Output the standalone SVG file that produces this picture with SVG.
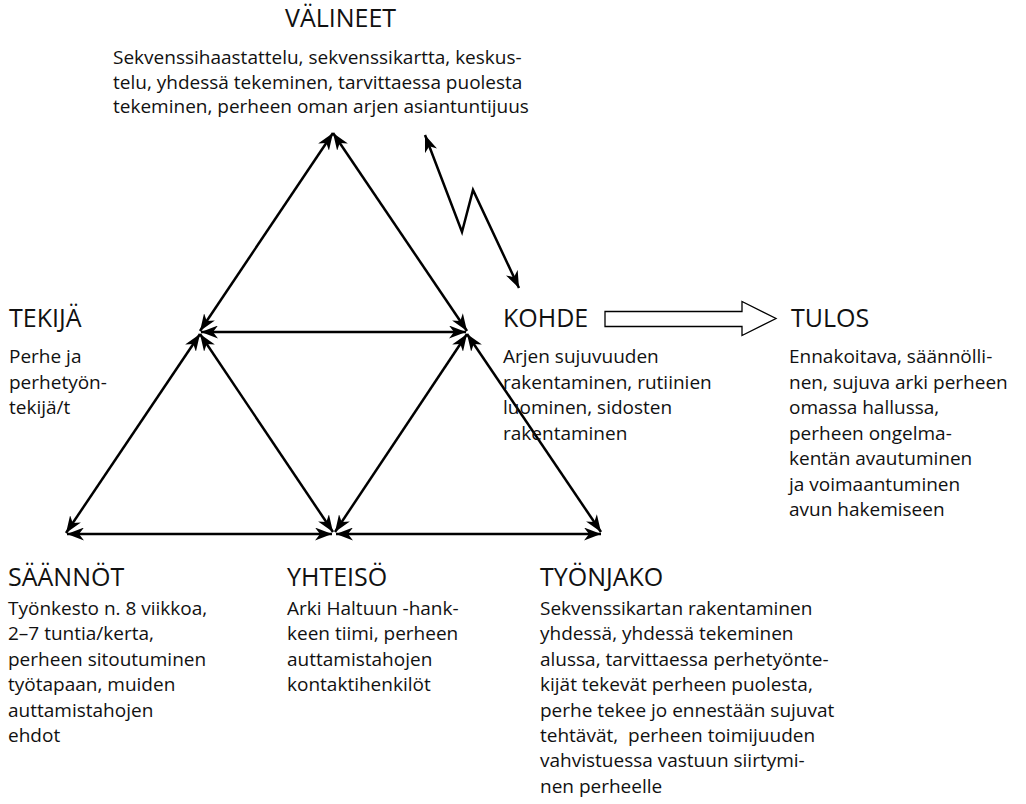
<svg xmlns="http://www.w3.org/2000/svg" width="1026" height="804" viewBox="0 0 1026 804">
<style>
.t{font-family:"Open Sans","Noto Sans",sans-serif;font-size:25px;fill:#111}
.b{font-family:"Open Sans","Noto Sans",sans-serif;font-size:19px;fill:#111}
.ln{stroke:#000;stroke-width:2.5;fill:none;marker-start:url(#ah);marker-end:url(#ah)}
</style>
<defs>
<marker id="ah" markerUnits="userSpaceOnUse" markerWidth="17" markerHeight="13" viewBox="0 0 17 13" refX="17" refY="6.5" orient="auto-start-reverse">
<path d="M0,0 L17,6.5 L0,13 L5,6.5 z" fill="#000"/>
</marker>
</defs>
<rect width="1026" height="804" fill="#fff"/>
<g id="connectors">
<line class="ln" x1="200" y1="331" x2="333" y2="133"/>
<line class="ln" x1="467" y1="331" x2="333" y2="133"/>
<line class="ln" x1="201" y1="332" x2="466" y2="332"/>
<line class="ln" x1="200" y1="334" x2="66" y2="533"/>
<line class="ln" x1="200" y1="334" x2="333" y2="532"/>
<line class="ln" x1="467" y1="334" x2="335" y2="532"/>
<line class="ln" x1="467" y1="334" x2="601" y2="532"/>
<line class="ln" x1="67" y1="534" x2="332" y2="534"/>
<line class="ln" x1="336" y1="534" x2="601" y2="534"/>
<polyline class="ln" points="425,135 462,232 473,190 519,288"/>
<polygon points="605,311.5 742,311.5 742,301.5 776,318.5 742,335.5 742,326.5 605,326.5" fill="#fff" stroke="#000" stroke-width="1.3"/>
</g>
<g id="valineet">
<text class="t" x="285" y="27">VÄLINEET</text>
<text class="b" x="113" y="64"><tspan x="113">Sekvenssihaastattelu, sekvenssikartta, keskus-</tspan><tspan x="113" dy="24.5">telu, yhdessä tekeminen, tarvittaessa puolesta</tspan><tspan x="113" dy="24.5">tekeminen, perheen oman arjen asiantuntijuus</tspan></text>
</g>
<g id="tekija">
<text class="t" x="9" y="327">TEKIJÄ</text>
<text class="b" x="9" y="363"><tspan x="9">Perhe ja</tspan><tspan x="9" dy="25.5">perhetyön-</tspan><tspan x="9" dy="25.5">tekijä/t</tspan></text>
</g>
<g id="kohde">
<text class="t" x="503" y="327">KOHDE</text>
<text class="b" x="503" y="363"><tspan x="503">Arjen sujuvuuden</tspan><tspan x="503" dy="25.5">rakentaminen, rutiinien</tspan><tspan x="503" dy="25.5">luominen, sidosten</tspan><tspan x="503" dy="25.5">rakentaminen</tspan></text>
</g>
<g id="tulos">
<text class="t" x="791" y="327">TULOS</text>
<text class="b" x="789" y="363"><tspan x="789">Ennakoitava, säännölli-</tspan><tspan x="789" dy="25.5">nen, sujuva arki perheen</tspan><tspan x="789" dy="25.5">omassa hallussa,</tspan><tspan x="789" dy="25.5">perheen ongelma-</tspan><tspan x="789" dy="25.5">kentän avautuminen</tspan><tspan x="789" dy="25.5">ja voimaantuminen</tspan><tspan x="789" dy="25.5">avun hakemiseen</tspan></text>
</g>
<g id="saannot">
<text class="t" x="8" y="586">SÄÄNNÖT</text>
<text class="b" x="8" y="615"><tspan x="8">Työnkesto n. 8 viikkoa,</tspan><tspan x="8" dy="25.4">2–7 tuntia/kerta,</tspan><tspan x="8" dy="25.4">perheen sitoutuminen</tspan><tspan x="8" dy="25.4">työtapaan, muiden</tspan><tspan x="8" dy="25.4">auttamistahojen</tspan><tspan x="8" dy="25.4">ehdot</tspan></text>
</g>
<g id="yhteiso">
<text class="t" x="287" y="586">YHTEISÖ</text>
<text class="b" x="287" y="615"><tspan x="287">Arki Haltuun -hank-</tspan><tspan x="287" dy="25.4">keen tiimi, perheen</tspan><tspan x="287" dy="25.4">auttamistahojen</tspan><tspan x="287" dy="25.4">kontaktihenkilöt</tspan></text>
</g>
<g id="tyonjako">
<text class="t" x="540" y="586">TYÖNJAKO</text>
<text class="b" x="540" y="615" xml:space="preserve"><tspan x="540">Sekvenssikartan rakentaminen</tspan><tspan x="540" dy="25.4">yhdessä, yhdessä tekeminen</tspan><tspan x="540" dy="25.4">alussa, tarvittaessa perhetyönte-</tspan><tspan x="540" dy="25.4">kijät tekevät perheen puolesta,</tspan><tspan x="540" dy="25.4">perhe tekee jo ennestään sujuvat</tspan><tspan x="540" dy="25.4">tehtävät,  perheen toimijuuden</tspan><tspan x="540" dy="25.4">vahvistuessa vastuun siirtymi-</tspan><tspan x="540" dy="25.4">nen perheelle</tspan></text>
</g>
</svg>
